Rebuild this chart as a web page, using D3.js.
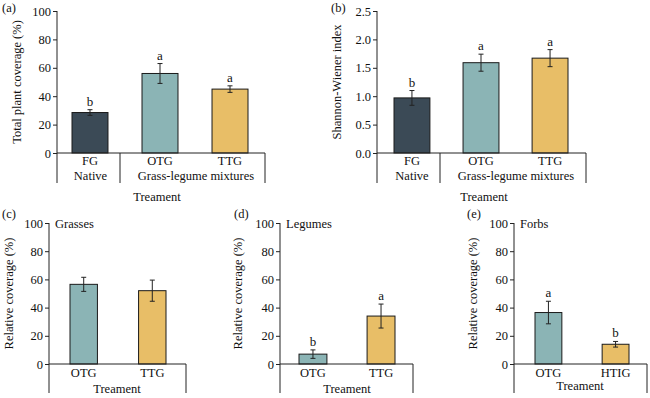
<!DOCTYPE html>
<html><head><meta charset="utf-8">
<script src="https://cdn.jsdelivr.net/npm/d3@7"></script>
<style>
body{margin:0;background:#fff;}
text{font-family:"Liberation Serif","Times New Roman",serif;fill:#111;}
</style></head>
<body><svg id="c" width="650" height="398"></svg>
<script>
// ---- data ----
const catsA = ["FG","OTG","TTG"];
const valsA = [28.5, 56, 45];
const errA = [2, 7, 2.3];
const letA = ["b","a","a"];

const catsB = ["FG","OTG","TTG"];
const valsB = [0.97, 1.59, 1.67];
const errB = [0.13, 0.15, 0.15];
const letB = ["b","a","a"];

const catsC = ["OTG","TTG"];
const valsC = [56.5, 52];
const errC = [5, 7.5];
const letC = ["",""];

const catsD = ["OTG","TTG"];
const valsD = [7, 34];
const errD = [3, 8.5];
const letD = ["b","a"];

const catsE = ["OTG","HTIG"];
const valsE = [36.5, 14];
const errE = [8, 2];
const letE = ["a","b"];

const ticks100 = [0,20,40,60,80,100];
const ticksSW = [0,0.5,1.0,1.5,2.0,2.5];

const colors = {FG:"#3b4a56", OTG:"#8bb4b5", TTG:"#e8be67", HTIG:"#e8be67"};

const svg = d3.select("#c");
const FS = 12.5;

function panel(o){
  const g = svg.append("g");
  const y = d3.scaleLinear().domain(o.domain).range([o.yb, o.yt]);
  const x = d3.scaleBand().domain(o.cats).range(o.band).paddingInner(o.pi);
  // bars
  g.selectAll("rect.bar").data(o.cats).join("rect")
    .attr("x", d=>x(d)).attr("width", x.bandwidth())
    .attr("y", (d,i)=>y(o.vals[i])).attr("height",(d,i)=>y(0)-y(o.vals[i]))
    .attr("fill", d=>colors[d]).attr("stroke","#1a1a1a").attr("stroke-width",1);
  // error bars
  o.cats.forEach((c,i)=>{
    const cx = x(c)+x.bandwidth()/2;
    const hi = y(o.vals[i]+o.errs[i]), lo = y(o.vals[i]-o.errs[i]);
    g.append("line").attr("x1",cx).attr("x2",cx).attr("y1",hi).attr("y2",lo).attr("stroke","#222").attr("stroke-width",1);
    [hi,lo].forEach(v=>g.append("line").attr("x1",cx-2.5).attr("x2",cx+2.5).attr("y1",v).attr("y2",v).attr("stroke","#222").attr("stroke-width",1));
    if(o.lets[i]) g.append("text").attr("x",cx).attr("y",hi-4).attr("text-anchor","middle").attr("font-size",FS+0.5).text(o.lets[i]);
  });
  // y axis
  const ya = d3.axisLeft(y).tickValues(o.ticks).tickSize(4).tickPadding(2).tickFormat(o.fmt);
  const ag = g.append("g").attr("transform",`translate(${o.ax},0)`).call(ya);
  ag.select(".domain").remove();
  ag.selectAll("text").attr("font-size",FS).attr("fill","#111");
  ag.selectAll("line").attr("stroke","#222");
  g.append("line").attr("x1",o.ax).attr("x2",o.ax).attr("y1",o.yt).attr("y2",o.yb+o.ext).attr("stroke","#222");
  g.append("line").attr("x1",o.ax).attr("x2",o.xEnd).attr("y1",o.yb).attr("y2",o.yb).attr("stroke","#222");
  g.append("line").attr("x1",o.xEnd).attr("x2",o.xEnd).attr("y1",o.yb).attr("y2",o.yb+o.ext).attr("stroke","#222");
  if(o.div) g.append("line").attr("x1",o.div).attr("x2",o.div).attr("y1",o.yb).attr("y2",o.yb+o.ext).attr("stroke","#222");
  // category labels
  o.cats.forEach(c=>{
    g.append("text").attr("x",x(c)+x.bandwidth()/2).attr("y",o.yb+o.catDy).attr("text-anchor","middle").attr("font-size",FS).text(c);
  });
  if(o.groups) o.groups.forEach(gr=>{
    g.append("text").attr("x",gr.x).attr("y",o.yb+27).attr("text-anchor","middle").attr("font-size",FS).text(gr.t);
  });
  g.append("text").attr("x",o.tx).attr("y",o.ty).attr("text-anchor","middle").attr("font-size",FS).text("Treament");
  // y title
  g.append("text").attr("transform",`translate(${o.ytx},${(o.yt+o.yb)/2}) rotate(-90)`).attr("text-anchor","middle").attr("font-size",FS).text(o.ytitle);
  // panel label
  g.append("text").attr("x",o.lx).attr("y",o.ly).attr("font-size",FS).text(o.label);
  if(o.sub) g.append("text").attr("x",o.ax+6).attr("y",o.yt+5).attr("font-size",FS).text(o.sub);
}

const f0 = d3.format("d"), f1 = d3.format(".1f");

panel({cats:catsA, vals:valsA, errs:errA, lets:letA, domain:[0,100], ticks:ticks100, fmt:f0,
  yt:11, yb:153, band:[72,248], pi:0.486, ax:57, xEnd:265, ext:30, div:120, catDy:12,
  groups:[{x:90.5,t:"Native"},{x:196,t:"Grass-legume mixtures"}],
  tx:157, ty:201, ytx:21, ytitle:"Total plant coverage (%)", lx:2, ly:12, label:"(a)"});

panel({cats:catsB, vals:valsB, errs:errB, lets:letB, domain:[0,2.5], ticks:ticksSW, fmt:f1,
  yt:11, yb:153, band:[394,568], pi:0.48, ax:377, xEnd:586, ext:30, div:440, catDy:12,
  groups:[{x:412,t:"Native"},{x:516,t:"Grass-legume mixtures"}],
  tx:484, ty:201, ytx:341, ytitle:"Shannon-Wiener index", lx:331, ly:12, label:"(b)"});

panel({cats:catsC, vals:valsC, errs:errC, lets:letC, domain:[0,100], ticks:ticks100, fmt:f0,
  yt:223, yb:364, band:[70,166], pi:0.6, ax:49, xEnd:186, ext:29, catDy:13,
  tx:117, ty:393, ytx:13, ytitle:"Relative coverage (%)", lx:2, ly:218, label:"(c)", sub:"Grasses"});

panel({cats:catsD, vals:valsD, errs:errD, lets:letD, domain:[0,100], ticks:ticks100, fmt:f0,
  yt:223, yb:364, band:[299,395], pi:0.59, ax:280, xEnd:413, ext:29, catDy:13,
  tx:347, ty:393, ytx:242, ytitle:"Relative coverage (%)", lx:234, ly:218, label:"(d)", sub:"Legumes"});

panel({cats:catsE, vals:valsE, errs:errE, lets:letE, domain:[0,100], ticks:ticks100, fmt:f0,
  yt:223, yb:364, band:[535,629], pi:0.6, ax:514, xEnd:647, ext:29, catDy:13,
  tx:580, ty:390, ytx:477, ytitle:"Relative coverage (%)", lx:467, ly:218, label:"(e)", sub:"Forbs"});
</script></body></html>
